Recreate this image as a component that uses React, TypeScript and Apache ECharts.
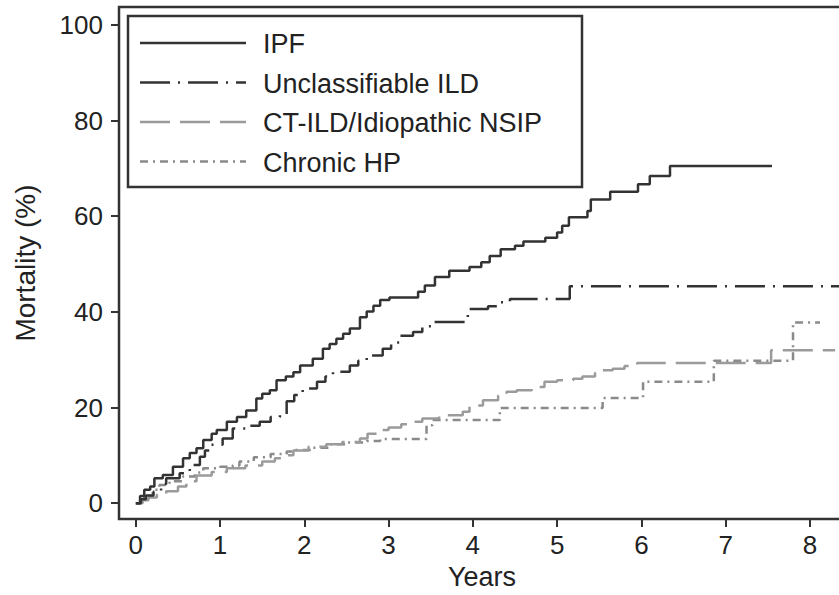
import React, { useEffect, useRef } from "react";
import * as echarts from "echarts";

const xTicks = [0, 1, 2, 3, 4, 5, 6, 7, 8];
const yTicks = [0, 20, 40, 60, 80, 100];

const seriesNames = ["IPF", "Unclassifiable ILD", "CT-ILD/Idiopathic NSIP", "Chronic HP"];

const ipfData = [
  [0, 0], [0.05, 1.5], [0.1, 2.8], [0.17, 3.5], [0.22, 5.2], [0.32, 5.9], [0.44, 7.6], [0.56, 9.4], [0.64, 10.5],
  [0.72, 11.5], [0.8, 13.2], [0.9, 14.5], [0.96, 15.3], [1.08, 17], [1.2, 18], [1.31, 19.4],
  [1.43, 21.9], [1.5, 22.9], [1.59, 23.6], [1.67, 25.7], [1.78, 26.5], [1.87, 27.4], [1.95, 28.8],
  [2.1, 30.2], [2.22, 32.3], [2.3, 33.3], [2.38, 34.4], [2.46, 35.4], [2.54, 36.5], [2.66, 38.9],
  [2.74, 40.1], [2.82, 41.3], [2.9, 42.5], [3.01, 43], [3.35, 44.2], [3.43, 45.5], [3.55, 47.3],
  [3.72, 48.6], [3.96, 49.4], [4.1, 50.4], [4.2, 51.7], [4.33, 53.1], [4.5, 53.8], [4.6, 54.7],
  [4.86, 55.5], [5.0, 56.6], [5.06, 58], [5.14, 59.8], [5.36, 61.1], [5.4, 63.5], [5.63, 65.1],
  [5.96, 66.7], [6.1, 68.4], [6.34, 70.5], [7.55, 70.5],
];

const unclassData = [
  [0, 0], [0.06, 0.8], [0.12, 1.6], [0.21, 2.4], [0.3, 4], [0.36, 5.2], [0.52, 6.25], [0.64, 8], [0.76, 9.7],
  [0.82, 11], [0.88, 12.2], [1.03, 13.5], [1.15, 15.6], [1.3, 16.2], [1.47, 17], [1.6, 18],
  [1.71, 18.5], [1.79, 21.3], [1.88, 22.6], [1.98, 24], [2.15, 25.4], [2.25, 26.5], [2.34, 27.5],
  [2.54, 28.8], [2.64, 29.8], [2.74, 30.9], [2.93, 32.3], [3.03, 33.6], [3.13, 35], [3.29, 35.8],
  [3.4, 37], [3.53, 37.9], [3.94, 40.6], [4.18, 41.2], [4.3, 42], [4.44, 42.7], [5.15, 45.35],
  [8.42, 45.35],
];

const ctildData = [
  [0, 0], [0.08, 0.6], [0.15, 1.2], [0.25, 1.8], [0.36, 2.5], [0.5, 3.5], [0.6, 4.2], [0.68, 4.6], [0.72, 5.8], [0.9, 6.5], [1.08, 7.3],
  [1.3, 7.9], [1.5, 8.7], [1.65, 9.4], [1.79, 10], [1.87, 11], [2.05, 11.8], [2.26, 12.3],
  [2.45, 12.8], [2.66, 13.5], [2.75, 14.5], [2.9, 15.3], [3.0, 15.8], [3.15, 16.5], [3.29, 17],
  [3.4, 17.7], [3.6, 18.4], [3.88, 19.1], [3.96, 20.4], [4.12, 21.5], [4.3, 22.5], [4.4, 23.3],
  [4.52, 23.6], [4.7, 24.3], [4.85, 25.4], [5.0, 25.7], [5.19, 26], [5.3, 26.5], [5.45, 27.2],
  [5.54, 27.8], [5.66, 28.1], [5.8, 28.7], [5.95, 29.3], [7.54, 32], [8.3, 32],
];

const chpData = [
  [0, 0], [0.05, 0.8], [0.1, 1.5], [0.2, 2.8], [0.28, 3.8], [0.4, 4.6], [0.56, 5.6], [0.7, 6.4], [0.8, 7.3],
  [1.0, 7.6], [1.15, 7.9], [1.23, 8.7], [1.4, 9.6], [1.6, 10.3], [1.79, 10.8], [1.9, 11.1],
  [2.1, 11.6], [2.3, 12.3], [2.5, 12.7], [2.74, 13], [2.9, 13.4], [3.45, 16.3], [3.52, 17.4],
  [4.32, 19.9], [5.54, 22], [6.02, 25.4], [6.86, 29.8], [7.8, 37.8], [8.12, 37.8],
];

const FONT = "'Liberation Sans', Arial, Helvetica, sans-serif";
const DARK = "#333333";
const LIGHT1 = "#9b9b9b";
const LIGHT2 = "#8a8a8a";

const styles = [
  { color: DARK, type: "solid" as any },
  { color: DARK, type: [30, 8, 2, 8] },
  { color: LIGHT1, type: [30, 10] },
  { color: LIGHT2, type: [8, 5, 2, 5] },
];

export default function App() {
  const ref = useRef<HTMLDivElement>(null);
  useEffect(() => {
    if (!ref.current) return;
    const chart = echarts.init(ref.current, undefined, { renderer: "svg" });
    const datas = [ipfData, unclassData, ctildData, chpData];
    const legendX1 = 140, legendX2 = 246, legendTextX = 263;
    const legendYs = [43, 82.5, 122, 161.5];
    const legendGraphics: any[] = [
      {
        type: "rect",
        shape: { x: 128, y: 16, width: 454, height: 171 },
        style: { fill: "#fff", stroke: DARK, lineWidth: 2.5 },
        z: 10,
      },
    ];
    seriesNames.forEach((n, i) => {
      legendGraphics.push({
        type: "line",
        shape: { x1: legendX1, y1: legendYs[i], x2: legendX2, y2: legendYs[i] },
        style: { stroke: styles[i].color, lineWidth: 2.5, lineDash: styles[i].type === "solid" ? null : styles[i].type },
        z: 11,
      });
      legendGraphics.push({
        type: "text",
        x: legendTextX,
        y: legendYs[i] + 1,
        style: { text: n, fontSize: 27, fontFamily: FONT, fill: "#222", verticalAlign: "middle", align: "left" },
        z: 11,
      });
    });
    chart.setOption({
      animation: false,
      backgroundColor: "#fff",
      grid: {
        left: 119, top: 7, right: 15, bottom: 74,
        show: true, borderColor: DARK, borderWidth: 2.5, backgroundColor: "transparent",
      },
      xAxis: {
        type: "value", min: -0.2, max: 8.417,
        name: "Years", nameLocation: "middle", nameGap: 42,
        nameTextStyle: { fontSize: 27, fontFamily: FONT, color: "#222" },
        axisLine: { show: false, onZero: false },
        axisTick: { show: true, customValues: xTicks, length: 8, lineStyle: { color: DARK, width: 2 } },
        axisLabel: { customValues: xTicks, fontSize: 26, fontFamily: FONT, color: "#222", margin: 13 },
        splitLine: { show: false },
      },
      yAxis: {
        type: "value", min: -3.333, max: 103.75,
        name: "Mortality (%)", nameLocation: "middle", nameGap: 80,
        nameTextStyle: { fontSize: 28, fontFamily: FONT, color: "#222" },
        axisLine: { show: false, onZero: false },
        axisTick: { show: true, customValues: yTicks, length: 8, lineStyle: { color: DARK, width: 2 } },
        axisLabel: { customValues: yTicks, fontSize: 26, fontFamily: FONT, color: "#222", margin: 16 },
        splitLine: { show: false },
      },
      series: datas.map((d, i) => ({
        name: seriesNames[i],
        type: "line",
        step: "end",
        data: d,
        symbol: "none",
        showSymbol: false,
        lineStyle: { color: styles[i].color, width: 2.5, type: styles[i].type },
        z: 4 - i,
      })),
      graphic: legendGraphics,
    });
    return () => chart.dispose();
  }, []);
  return (
    <div style={{ position: "fixed", left: 0, top: 0, width: 839, height: 595, overflow: "hidden", background: "#fff" }}>
      <div ref={ref} style={{ width: 860, height: 595 }} />
    </div>
  );
}
